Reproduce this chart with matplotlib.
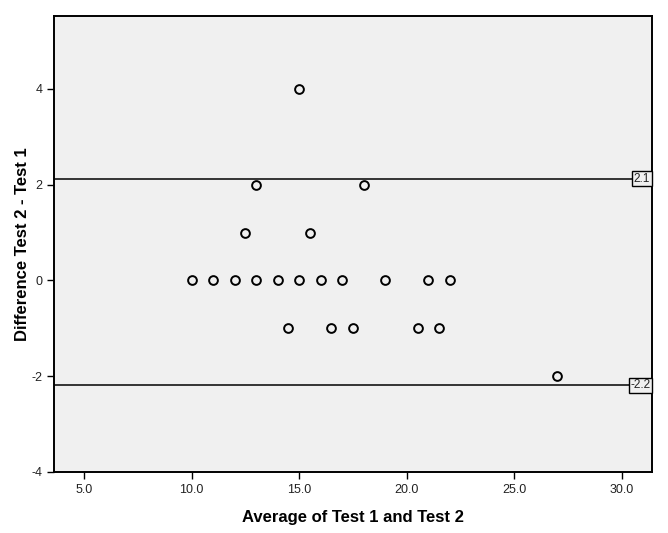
import matplotlib
matplotlib.use("Agg")
import matplotlib.pyplot as plt
import matplotlib.transforms as mtransforms

plt.rcParams['font.family'] = ['Liberation Sans', 'DejaVu Sans']

# average of the two tests vs. their difference
avg = [15, 13, 18, 12.5, 15.5,
       10, 11, 12, 13, 14, 15, 16, 17, 19, 21, 22,
       14.5, 16.5, 17.5, 20.5, 21.5,
       27]
diff = [4, 2, 2, 1, 1,
        0, 0, 0, 0, 0, 0, 0, 0, 0, 0, 0,
        -1, -1, -1, -1, -1,
        -2]
limits = [2.125, -2.19]
limit_labels = ['2.1', '-2.2']
xticks = [5, 10, 15, 20, 25, 30]
yticks = [-4, -2, 0, 2, 4]

fig = plt.figure(figsize=(6.68, 5.33), dpi=100)
ax = fig.add_axes([54/668, 61/533, 598/668, 456/533])
ax.set_facecolor('#f0f0f0')

ax.plot(avg, diff, linestyle='none', marker='o', markersize=6.3,
        markerfacecolor='none', markeredgecolor='black', markeredgewidth=1.4,
        zorder=3)

trans = mtransforms.blended_transform_factory(ax.transAxes, ax.transData)
for yv, lab in zip(limits, limit_labels):
    ax.axhline(yv, color='black', linewidth=1.1, zorder=2)
    ax.text(0.997, yv, lab, transform=trans, ha='right', va='center',
            fontsize=8.5, color='#222222', zorder=4,
            bbox=dict(boxstyle='square,pad=0.12', facecolor='#f0f0f0',
                      edgecolor='black', linewidth=1.0))

ax.set_xlim(3.6, 31.4)
ax.set_ylim(-4, 5.52)
ax.set_xticks(xticks)
ax.set_xticklabels(['%.1f' % v for v in xticks])
ax.set_yticks(yticks)
ax.set_yticklabels([str(v) for v in yticks])
ax.tick_params(direction='out', length=5, width=1, labelsize=9,
               colors='black', labelcolor='#222222')
for s in ax.spines.values():
    s.set_linewidth(1.4)

ax.set_xlabel('Average of Test 1 and Test 2', fontsize=12, fontweight='bold',
              labelpad=10)
ax.set_ylabel('Difference Test 2 - Test 1', fontsize=12, fontweight='bold',
              labelpad=1)

fig.savefig('out.png', dpi=100)
